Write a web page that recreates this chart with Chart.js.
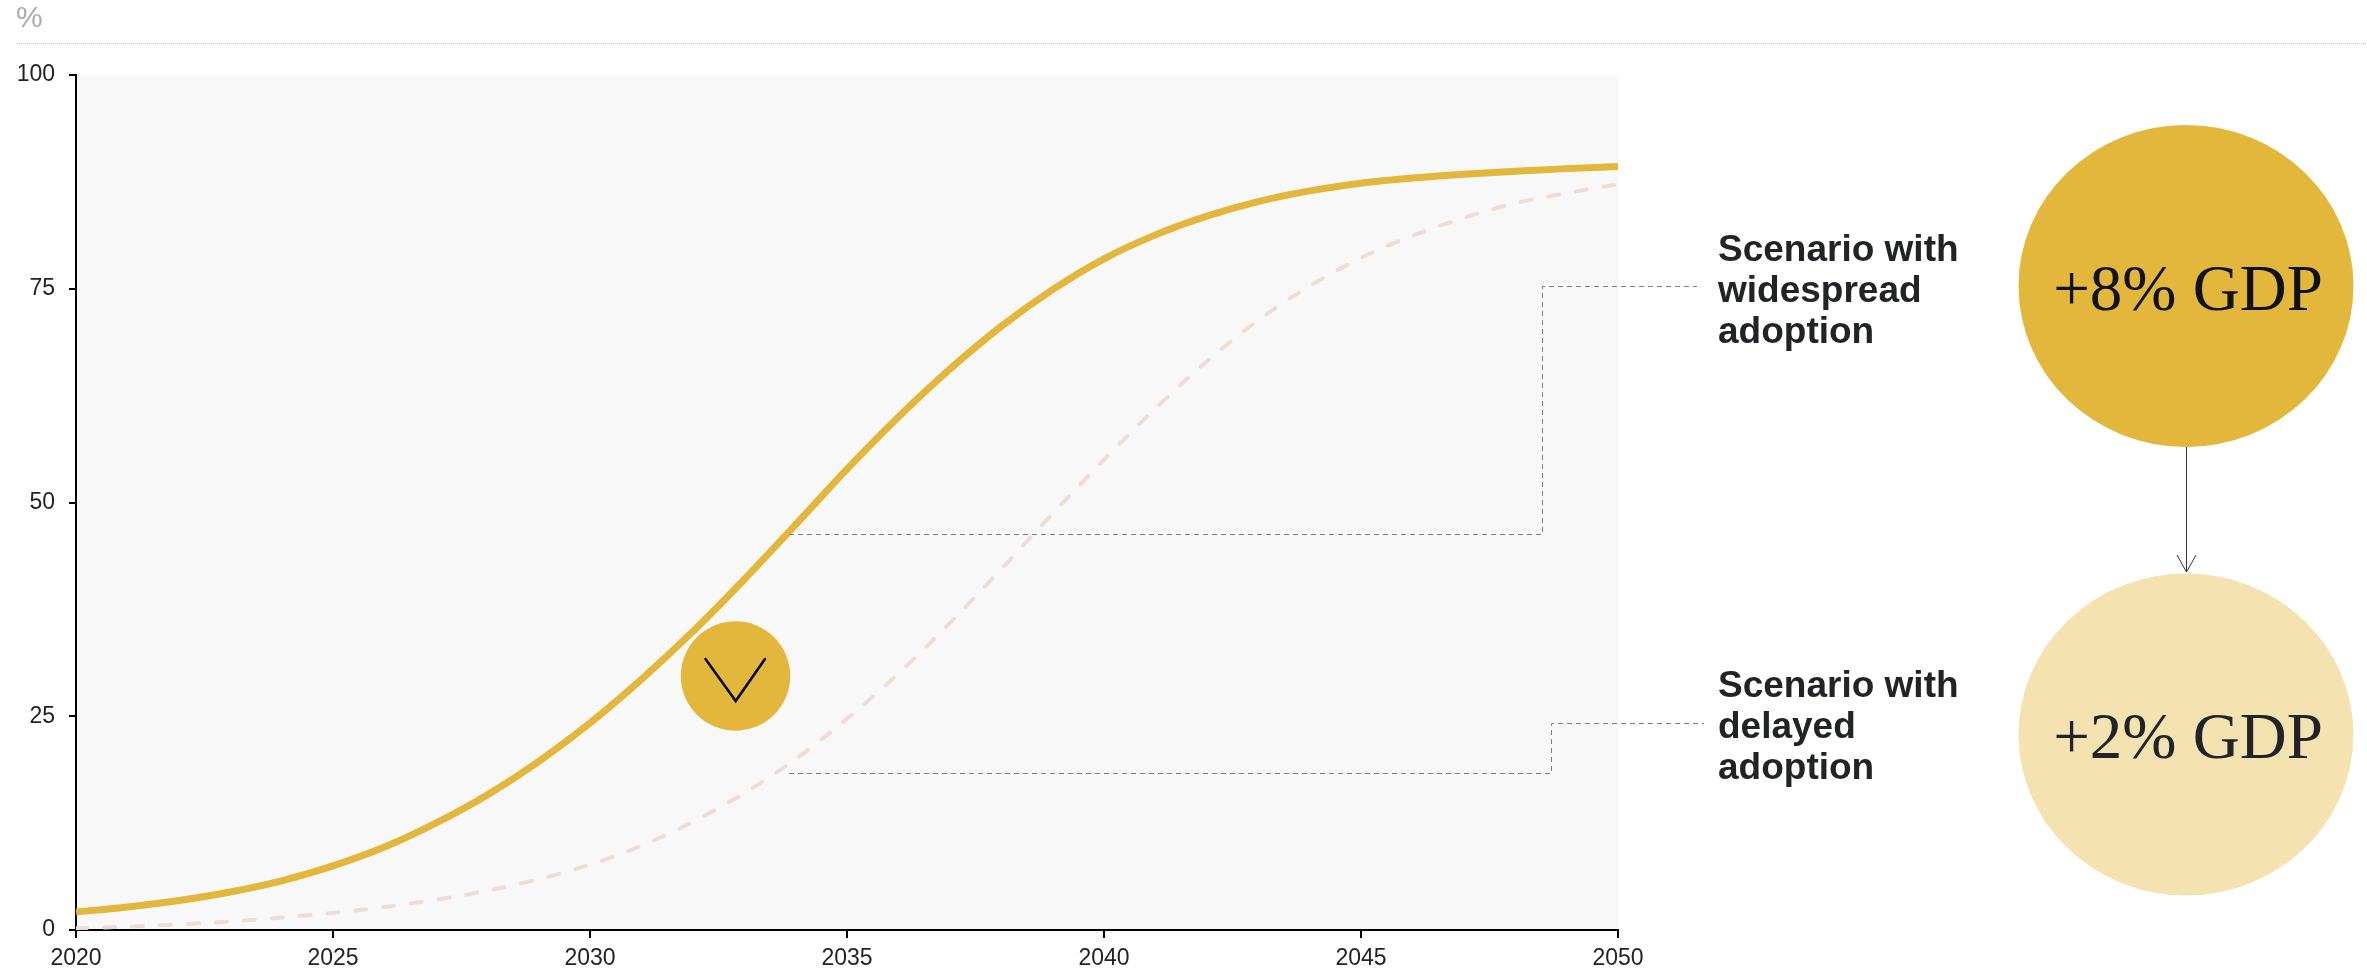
<!DOCTYPE html>
<html>
<head>
<meta charset="utf-8">
<title>Adoption scenarios</title>
<script src="https://cdn.jsdelivr.net/npm/chart.js@4/dist/chart.umd.min.js"></script>
<style>
html,body{margin:0;padding:0;background:#fff;overflow:hidden}
canvas{display:block}
</style>
</head>
<body>
<canvas id="c" width="2367" height="970"></canvas>
<script>
const years = [2020,2021,2022,2023,2024,2025,2026,2027,2028,2029,2030,2031,2032,2033,2034,2035,2036,2037,2038,2039,2040,2041,2042,2043,2044,2045,2046,2047,2048,2049,2050];
const widespread = [2.1,2.7,3.45,4.45,5.75,7.5,9.7,12.5,15.8,19.7,24.2,29.3,34.9,41,47.4,53.9,60,65.6,70.6,74.9,78.5,81.3,83.5,85.2,86.45,87.35,87.95,88.4,88.75,89.05,89.3];
const delayed = [0.2,0.4,0.65,1,1.45,2,2.7,3.55,4.6,5.95,7.65,9.85,12.65,16,20,24.7,30,35.9,42.2,48.7,55,61,66.5,71.3,75.3,78.6,81.2,83.3,85,86.2,87.2];
const xTicks = [2020,2025,2030,2035,2040,2045,2050];
const yTicks = [0,25,50,75,100];
const unitLabel = "%";
const labelWidespread = ["Scenario with","widespread","adoption"];
const labelDelayed = ["Scenario with","delayed","adoption"];
const gdpHigh = "+8% GDP";
const gdpLow = "+2% GDP";

const GOLD = "#E3B73B", PALE = "#F4E2B0", DASH = "#EFDDD5", INK = "#222326";
const SANS = '"Liberation Sans", Arial, sans-serif';
const SERIF = '"Liberation Serif", "Times New Roman", serif';

function dashedPath(ctx, pts){
  ctx.save();
  ctx.strokeStyle = "#808080"; ctx.lineWidth = 1; ctx.setLineDash([5,4]);
  ctx.beginPath();
  pts.forEach((p,i)=> i ? ctx.lineTo(p[0],p[1]) : ctx.moveTo(p[0],p[1]));
  ctx.stroke();
  ctx.restore();
}
function ellipse(ctx,cx,cy,rx,ry,fill){
  ctx.fillStyle = fill; ctx.beginPath(); ctx.ellipse(cx,cy,rx,ry,0,0,Math.PI*2); ctx.fill();
}
function lines(ctx, arr, x, baselines){
  ctx.font = 'bold 37px '+SANS; ctx.fillStyle = INK; ctx.textAlign = "left"; ctx.textBaseline = "alphabetic";
  arr.forEach((t,i)=>ctx.fillText(t,x,baselines[i]));
}

const plotBackground = {
  id:"plotBackground",
  beforeDraw(chart){
    const {ctx, chartArea:a} = chart;
    ctx.save();
    ctx.fillStyle = "#F8F8F8";
    ctx.fillRect(a.left,a.top,a.right-a.left,a.bottom-a.top);
    ctx.restore();
  }
};
const annotations = {
  id:"annotations",
  afterDatasetsDraw(chart){
    const ctx = chart.ctx;
    ctx.save();
    // unit header
    ctx.font = '30px '+SANS; ctx.fillStyle = "#ABABAB"; ctx.textAlign="left"; ctx.textBaseline="alphabetic";
    ctx.fillText(unitLabel,16,27);
    ctx.strokeStyle = "#BDBDBD"; ctx.lineWidth = 1; ctx.setLineDash([1,1]);
    ctx.beginPath(); ctx.moveTo(17,43.5); ctx.lineTo(2367,43.5); ctx.stroke(); ctx.setLineDash([]);
    // connectors
    dashedPath(ctx,[[789,534.5],[1542.5,534.5],[1542.5,286.5],[1697,286.5]]);
    dashedPath(ctx,[[789,773.5],[1551.5,773.5],[1551.5,723.5],[1704,723.5]]);
    // chevron marker
    ellipse(ctx,735.5,676,54.7,54.7,GOLD);
    ctx.strokeStyle="#000"; ctx.lineWidth=2.5; ctx.lineCap="round"; ctx.lineJoin="miter";
    ctx.beginPath(); ctx.moveTo(705.5,659); ctx.lineTo(735.7,701); ctx.lineTo(765,659); ctx.stroke();
    // scenario labels
    lines(ctx,labelWidespread,1718,[261,302,343]);
    lines(ctx,labelDelayed,1718,[697,738,779]);
    // GDP bubbles
    ellipse(ctx,2186,286,167.5,161,GOLD);
    ellipse(ctx,2186,734.5,167.5,161,PALE);
    ctx.font='65px '+SERIF; ctx.textAlign="center"; ctx.textBaseline="alphabetic";
    ctx.fillStyle="#111"; ctx.fillText(gdpHigh,2188,310);
    ctx.fillStyle=INK; ctx.fillText(gdpLow,2188,758);
    // arrow
    ctx.strokeStyle="#333"; ctx.lineWidth=1; ctx.lineCap="butt";
    ctx.beginPath(); ctx.moveTo(2186.5,447); ctx.lineTo(2186.5,572); ctx.stroke();
    ctx.beginPath(); ctx.moveTo(2177,555); ctx.lineTo(2186.5,572); ctx.lineTo(2196,555); ctx.stroke();
    ctx.restore();
  }
};

new Chart(document.getElementById("c"),{
  type:"line",
  data:{
    labels:years,
    datasets:[
      {label:"Scenario with delayed adoption",data:years.map((x,i)=>({x,y:delayed[i]})),borderColor:DASH,borderWidth:4,borderDash:[11,17],borderCapStyle:"round",pointRadius:0,cubicInterpolationMode:"monotone",order:2},
      {label:"Scenario with widespread adoption",data:years.map((x,i)=>({x,y:widespread[i]})),borderColor:GOLD,borderWidth:7,pointRadius:0,cubicInterpolationMode:"monotone",order:1}
    ]
  },
  plugins:[plotBackground,annotations],
  options:{
    responsive:false,
    animation:false,
    events:[],
    layout:{padding:{top:75,right:749,left:0,bottom:0}},
    plugins:{legend:{display:false},title:{display:false},tooltip:{enabled:false}},
    scales:{
      x:{
        type:"linear",min:2020,max:2050,
        afterBuildTicks(s){s.ticks=xTicks.map(value=>({value}));},
        afterFit(s){s.height=40;},
        grid:{drawOnChartArea:false,color:"#000",tickColor:"#000",lineWidth:2,tickLength:8},
        border:{color:"#000",width:2},
        ticks:{color:INK,font:{family:SANS,size:23},padding:7,maxRotation:0,autoSkip:false,callback:v=>String(v)}
      },
      y:{
        type:"linear",min:0,max:100,
        afterBuildTicks(s){s.ticks=yTicks.map(value=>({value}));},
        afterFit(s){s.width=76;},
        grid:{drawOnChartArea:false,color:"#000",tickColor:"#000",lineWidth:2,tickLength:7},
        border:{color:"#000",width:2},
        ticks:{color:INK,font:{family:SANS,size:23},padding:14,callback:v=>String(v)}
      }
    }
  }
});
</script>
</body>
</html>
